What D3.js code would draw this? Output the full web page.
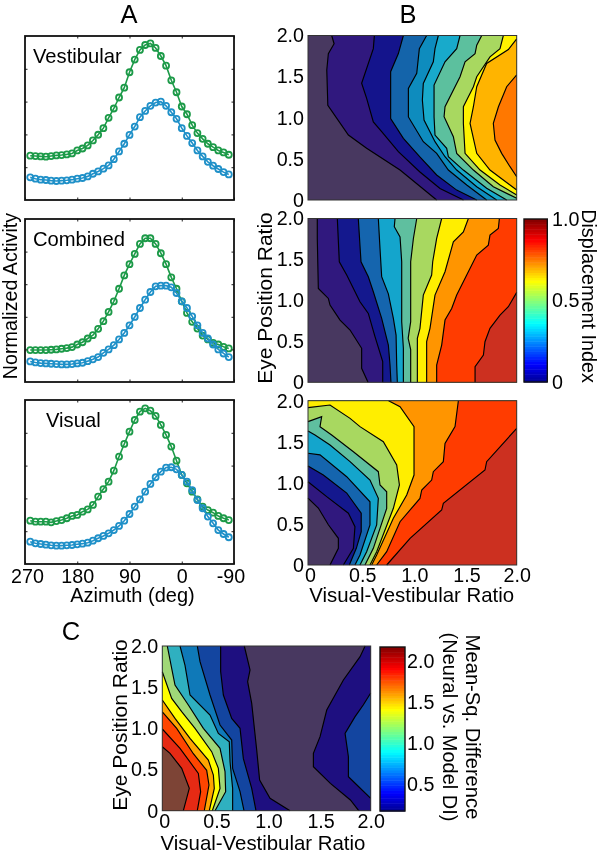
<!DOCTYPE html>
<html><head><meta charset="utf-8">
<script src="https://cdn.jsdelivr.net/npm/d3@7/dist/d3.min.js"></script>
<style>html,body{margin:0;padding:0;background:#fff}svg{display:block;filter:blur(0.35px)}text{font-family:"Liberation Sans",Arial,sans-serif;fill:#000}</style>
</head><body><svg id="c" width="600" height="853"></svg>
<script>
// ---- data -------------------------------------------------------------
const azimuth = d3.range(39).map(i => 261 - 9 * i);
const azTicks = [270, 180, 90, 0, -90];
const ratioTicks = [0, 0.5, 1, 1.5, 2];

const vestGreen = [27.0,26.8,26.6,26.4,26.8,27.2,27.4,27.8,28.4,30.2,31.4,33.3,36.3,39.8,43.8,50.1,55.8,62.5,68.5,77.9,85.6,91.5,94.5,95.5,92.7,87.8,81.9,73.0,65.7,57.0,52.3,45.6,40.8,37.3,34.3,32.2,30.2,29.0,27.6];
const vestBlue = [13.8,13.0,12.4,12.2,11.8,11.6,11.8,12.0,12.4,13.0,13.4,14.4,16.0,17.4,19.1,21.1,24.9,29.6,34.3,39.7,44.8,50.5,54.3,57.4,59.4,60.0,57.4,53.5,49.5,43.8,39.1,34.7,30.2,26.6,23.3,20.9,18.9,17.0,15.6];
const combGreen = [19.6,19.6,19.6,19.6,19.8,20.0,20.4,20.8,21.4,23.0,24.4,26.7,28.7,32.6,37.3,43.0,49.5,57.2,65.4,72.3,78.6,84.7,88.2,88.2,84.7,79.0,72.3,64.2,57.2,49.5,42.4,36.9,32.8,28.5,26.1,24.0,23.0,21.6,20.6];
const combBlue = [12.6,12.0,11.6,11.4,11.2,11.0,10.8,10.8,11.0,11.4,11.8,12.8,13.9,15.3,17.9,20.0,22.6,26.1,30.1,34.8,39.9,45.4,50.5,55.2,58.7,59.1,59.1,58.1,54.6,49.5,45.4,40.3,34.8,30.1,26.7,23.0,20.0,17.5,15.3];
const visGreen = [26.4,25.8,25.8,25.8,25.4,26.2,26.8,27.9,29.3,29.9,31.9,33.3,36.0,41.1,45.7,50.2,56.9,65.5,73.2,80.7,87.8,92.9,94.9,93.5,90.3,84.8,78.7,71.6,63.0,54.3,49.2,44.1,39.4,35.0,32.9,31.3,29.3,27.9,26.8];
const visBlue = [13.6,12.6,12.2,11.8,11.4,11.2,11.2,11.4,11.6,12.0,12.4,13.0,14.2,15.7,17.1,18.7,20.7,23.2,26.4,30.5,35.0,39.4,44.1,48.8,52.9,56.3,58.8,59.0,57.7,54.3,50.2,45.1,39.0,34.0,28.9,24.8,20.7,18.3,16.3];

// iso-lines of each contour map, as [visual-vestibular ratio, eye position ratio]
const b1Lines = [
 [[.227,2],[.25,1.9],[.195,1.78],[.18,1.58],[.19,1.15],[.387,.79],[.562,.63],[.882,.364],[1.233,0]],
 [[.636,2],[.626,1.84],[.514,1.42],[.562,1.235],[.626,.95],[.706,.83],[.866,.587],[1.07,.344],[1.265,.14],[1.49,0]],
 [[.914,2],[.866,1.78],[.792,1.56],[.792,.99],[.914,.75],[1.07,.526],[1.233,.304],[1.425,.12],[1.617,0]],
 [[1.137,2],[1.067,1.84],[1.042,1.54],[.962,1.356],[.962,1.01],[1.105,.709],[1.233,.567],[1.345,.364],[1.521,.182],[1.712,0]],
 [[1.249,2],[1.217,1.84],[1.201,1.68],[1.105,1.417],[1.096,1.215],[1.112,.972],[1.217,.709],[1.313,.526],[1.425,.364],[1.617,.162],[1.808,0]],
 [[1.457,2],[1.425,1.84],[1.313,1.68],[1.208,1.397],[1.208,1.008],[1.217,.79],[1.329,.628],[1.345,.526],[1.489,.364],[1.712,.142],[1.904,0]],
 [[1.665,2],[1.617,1.883],[1.601,1.78],[1.505,1.68],[1.457,1.498],[1.313,1.134],[1.304,1.012],[1.393,.769],[1.425,.567],[1.585,.364],[1.776,.162],[2,.02]],
 [[1.872,2],[1.84,1.84],[1.744,1.74],[1.617,1.498],[1.585,1.377],[1.489,1.134],[1.489,.931],[1.505,.567],[1.649,.364],[1.84,.182],[2,.061]],
 [[2,1.96],[1.92,1.83],[1.712,1.66],[1.617,1.377],[1.585,1.134],[1.553,.931],[1.617,.567],[1.744,.364],[2,.121]],
 [[2,1.52],[1.904,1.377],[1.825,1.134],[1.776,.931],[1.792,.729],[1.856,.567],[1.936,.405],[2,.283]]
];
const b1Colors = ["#30187e","#14148c","#1464aa","#0e8cbe","#18aacb","#5cc09e","#a8d860","#fff200","#ffb400","#ff7800"];
const b2Lines = [
 [[.089,2],[.089,1.756],[.099,1.146],[.195,1.024],[.211,.943],[.307,.76],[.403,.638],[.514,.415],[.514,.171],[.575,0]],
 [[.281,2],[.3,1.472],[.371,1.309],[.498,.984],[.578,.841],[.642,.557],[.716,.252],[.716,0]],
 [[.482,2],[.508,1.472],[.578,1.289],[.626,1.106],[.706,.78],[.77,.455],[.786,.211],[.795,0]],
 [[.674,2],[.69,1.634],[.706,1.289],[.77,1.08],[.818,.78],[.844,.577],[.85,.211],[.856,0]],
 [[.834,2],[.827,1.9],[.882,1.776],[.898,1.472],[.898,1.106],[.898,.74],[.914,.415],[.914,0]],
 [[1.042,2],[1.01,1.756],[.984,1.472],[.984,.74],[.96,.537],[.984,.4],[.984,0]],
 [[1.281,2],[1.233,1.756],[1.195,1.472],[1.185,1.309],[1.105,1.065],[1.073,.659],[1.048,.537],[1.048,0]],
 [[1.537,2],[1.489,1.837],[1.393,1.715],[1.313,1.35],[1.217,1.065],[1.169,.659],[1.137,.496],[1.137,0]],
 [[1.834,2],[1.824,1.878],[1.744,1.797],[1.728,1.675],[1.617,1.553],[1.521,1.309],[1.425,1.065],[1.377,.902],[1.313,.76],[1.281,.455],[1.233,.211],[1.233,0]],
 [[2,1.098],[1.92,.923],[1.84,.82],[1.744,.659],[1.696,.496],[1.681,.333],[1.601,.191],[1.601,0]]
];
const b2Colors = ["#30187e","#14188e","#1565ae","#14a5cc","#5fbf9f","#a8d860","#ffee00","#ff9500","#ff3c00","#cc3020"];
const b3Lines = [
 [[0,.815],[.099,.694],[.195,.49],[.291,.325],[.291,.203],[.211,0]],
 [[0,1.014],[.179,.832],[.387,.63],[.45,.467],[.435,.203],[.339,0]],
 [[0,1.205],[.147,1.095],[.371,.876],[.51,.63],[.51,.406],[.463,.203],[.396,0]],
 [[0,1.36],[.115,1.34],[.371,1.075],[.594,.77],[.594,.487],[.498,.122],[.45,0]],
 [[0,1.631],[.067,1.582],[.211,1.46],[.403,1.258],[.594,1.034],[.674,.811],[.658,.487],[.562,.162],[.498,0]],
 [[0,1.745],[.131,1.806],[.115,1.684],[.227,1.582],[.435,1.379],[.674,1.136],[.69,.974],[.754,.892],[.754,.69],[.626,.203],[.546,0]],
 [[0,1.916],[.211,1.948],[.403,1.785],[.498,1.684],[.722,1.501],[.85,1.217],[.876,.974],[.818,.69],[.658,.162],[.594,0]],
 [[.772,2],[.882,1.927],[1.016,1.684],[1.016,1.095],[.946,.852],[.818,.568],[.658,.122],[.61,0]],
 [[1.441,2],[1.409,1.684],[1.313,1.481],[1.297,1.258],[1.201,1.136],[1.185,1.034],[1.09,.913],[1.073,.811],[.882,.527],[.754,.162],[.658,0]],
 [[2,1.663],[1.712,1.258],[1.696,1.156],[1.297,.751],[1.281,.669],[.978,.325],[.754,0]]
];
const b3Colors = b2Colors;
const cLines = [
 [[1.946,2],[1.898,1.87],[1.738,1.587],[1.578,1.223],[1.514,.899],[1.45,.696],[1.45,.534],[1.613,.332],[1.805,.13],[1.885,0]],
 [[2,1.429],[1.93,1.287],[1.85,1.142],[1.754,.939],[1.786,.656],[1.786,.413],[1.885,.291],[2,.15]],
 [[1.226,0],[1.034,.15],[.934,.372],[.906,.737],[.858,1.304],[.819,1.567],[.842,1.709],[.787,2]],
 [[.899,0],[.858,.271],[.778,.632],[.746,1.0],[.666,1.12],[.586,1.405],[.56,1.69],[.56,2]],
 [[.784,0],[.746,.231],[.675,.514],[.666,.858],[.554,1.04],[.458,1.405],[.362,1.81],[.336,2]],
 [[.675,0],[.675,.271],[.65,.595],[.643,.838],[.538,.939],[.458,1.162],[.266,1.405],[.218,1.765],[.17,2]],
 [[.506,0],[.608,.231],[.602,.474],[.554,.757],[.394,1.0],[.25,1.283],[.122,1.526],[.09,1.729],[.048,2]],
 [[.48,0],[.554,.271],[.538,.514],[.474,.717],[.314,1.0],[.186,1.202],[.09,1.364],[0,1.688]],
 [[.451,0],[.499,.271],[.49,.433],[.442,.615],[.266,.879],[.122,1.121],[0,1.344]],
 [[.403,0],[.448,.312],[.426,.49],[.298,.692],[.138,1.0],[0,1.2]],
 [[.336,0],[.368,.231],[.346,.453],[.17,.757],[0,.992]],
 [[.202,0],[.259,.271],[.186,.514],[.074,.696],[0,.777]]
];
const cColors = ["#1e0f80","#1345a0","#1e0f80","#1345a0","#0f79b8","#2fb0c0","#a0d878","#ffff00","#ffa500","#ff4500","#e62a14","#7d4436"];
const lowestBand = "#483860";

const jetStops = ["#00008f","#0000ff","#00ffff","#ffff00","#ff0000","#800000"];
const jetPositions = [0, 0.11, 0.36, 0.62, 0.87, 1];

// ---- drawing -----------------------------------------------------------
const svg = d3.select("#c");
const FS = 19.7;

function label(t, x, y, size, anchor) {
  return svg.append("text").text(t).attr("font-size", size).attr("text-anchor", anchor || "middle").attr("x", x).attr("y", y);
}
function vlabel(t, x, y, size, rot) {
  return svg.append("text").text(t).attr("font-size", size).attr("text-anchor", "middle")
    .attr("transform", `translate(${x},${y}) rotate(${rot})`);
}

function linePanel(box, green, blue, name, nx, ny, showX) {
  const g = svg.append("g");
  const x = d3.scaleLinear().domain([270, -90]).range([box.x0, box.x1]);
  const y = d3.scaleLinear().domain([0, 100]).range([box.y1, box.y0]);
  const ln = d3.line().x((d, i) => x(azimuth[i])).y(d => y(d));
  [[green, "#1c9a48"], [blue, "#1f90c8"]].forEach(([v, c]) => {
    g.append("path").attr("d", ln(v)).attr("fill", "none").attr("stroke", c).attr("stroke-width", 1.6);
    g.selectAll(null).data(v).join("circle")
      .attr("cx", (d, i) => x(azimuth[i])).attr("cy", d => y(d)).attr("r", 3)
      .attr("fill", "none").attr("stroke", c).attr("stroke-width", 1.8);
  });
  const ticksOnly = a => a.tickSizeOuter(0);
  const bx = g.append("g").attr("transform", `translate(0,${box.y1})`)
    .call(ticksOnly(d3.axisBottom(x).tickValues(azTicks).tickSizeInner(-2.5).tickPadding(6).tickFormat(d => showX ? String(d) : "")));
  g.append("g").attr("transform", `translate(0,${box.y0})`)
    .call(ticksOnly(d3.axisTop(x).tickValues(azTicks).tickSizeInner(-2.5).tickFormat("")));
  const yt = [20, 40, 60, 80];
  [d3.axisLeft(y).tickSizeInner(-2.5), d3.axisRight(y).tickSizeInner(-2.5)].forEach((a, i) => {
    g.append("g").attr("transform", `translate(${i ? box.x1 : box.x0},0)`).call(ticksOnly(a).tickValues(yt).tickFormat(""));
  });
  g.selectAll(".domain").remove();
  bx.selectAll("text").attr("font-size", FS).attr("font-family", '"Liberation Sans"').attr("y", 5)
    .attr("dx", d => d === -90 ? -3.5 : (d === 270 ? 2 : 0));
  g.selectAll(".tick line").attr("stroke", "#222").attr("stroke-width", 1);
  g.append("rect").attr("x", box.x0).attr("y", box.y0).attr("width", box.x1 - box.x0).attr("height", box.y1 - box.y0)
    .attr("fill", "none").attr("stroke", "#111").attr("stroke-width", 1.8);
  label(name, nx, ny, 20.2, "start");
}

function perimeterT(p) {
  const [a, b] = p;
  if (b === 0) return a;
  if (a === 2) return 2 + b;
  if (b === 2) return 4 + (2 - a);
  return 6 + (2 - b);
}
const perimeterCorners = [[0, 0], [2, 0], [2, 2], [0, 2]];
function closeBand(pts) {
  const tEnd = perimeterT(pts[pts.length - 1]);
  let tStart = perimeterT(pts[0]);
  if (tStart <= tEnd) tStart += 8;
  const out = pts.slice();
  for (let t = 2 * Math.floor(tEnd / 2) + 2; t < tStart; t += 2) out.push(perimeterCorners[(t / 2) % 4]);
  return out;
}

function contourPanel(box, lines, colors, showX) {
  const g = svg.append("g");
  const x = d3.scaleLinear().domain([0, 2]).range([box.x0, box.x1]);
  const y = d3.scaleLinear().domain([0, 2]).range([box.y1, box.y0]);
  const ln = d3.line().x(d => x(d[0])).y(d => y(d[1]));
  g.append("rect").attr("x", box.x0).attr("y", box.y0).attr("width", box.x1 - box.x0).attr("height", box.y1 - box.y0).attr("fill", lowestBand);
  lines.forEach((pts, i) => g.append("path").attr("d", ln(closeBand(pts)) + "Z").attr("fill", colors[i]).attr("stroke", "none"));
  lines.forEach(pts => g.append("path").attr("d", ln(pts)).attr("fill", "none").attr("stroke", "#000").attr("stroke-width", 1.15));
  const fmt = d => d === 0 ? "0" : d3.format(".1f")(d);
  const ay = g.append("g").attr("transform", `translate(${box.x0},0)`)
    .call(d3.axisLeft(y).tickValues(ratioTicks).tickSize(0).tickPadding(4).tickFormat(fmt));
  ay.selectAll("text").attr("font-size", FS).attr("font-family", '"Liberation Sans"');
  if (showX) {
    const ax = g.append("g").attr("transform", `translate(0,${box.y1})`)
      .call(d3.axisBottom(x).tickValues(ratioTicks).tickSize(0).tickPadding(3).tickFormat(fmt));
    ax.selectAll("text").attr("font-size", FS).attr("font-family", '"Liberation Sans"')
      .attr("dx", d => d === 2 ? 0 : 2);
    ax.select(".domain").remove();
  }
  ay.select(".domain").remove();
  g.append("rect").attr("x", box.x0).attr("y", box.y0).attr("width", box.x1 - box.x0).attr("height", box.y1 - box.y0)
    .attr("fill", "none").attr("stroke", "#333").attr("stroke-width", 1);
}

function colorbar(box, domain, ticks, fmt, labelX) {
  const y = d3.scaleLinear().domain(domain).range([box.y1, box.y0]);
  const t = d3.scaleLinear().domain(jetPositions).range(jetStops).interpolate(d3.interpolateRgb);
  const steps = d3.range(64);
  const band = d3.scaleBand().domain(steps).range([box.y1, box.y0]);
  svg.append("g").selectAll("rect").data(steps).join("rect")
    .attr("x", box.x0).attr("width", box.x1 - box.x0)
    .attr("y", d => band(d)).attr("height", band.bandwidth() + 0.5)
    .attr("fill", d => t((d + 0.5) / 64));
  svg.append("rect").attr("x", box.x0).attr("y", box.y0).attr("width", box.x1 - box.x0).attr("height", box.y1 - box.y0)
    .attr("fill", "none").attr("stroke", "#111").attr("stroke-width", 1.4);
  const a = svg.append("g").attr("transform", `translate(${box.x1},0)`)
    .call(d3.axisRight(y).tickValues(ticks).tickSizeInner(0).tickSizeOuter(0).tickPadding(labelX - box.x1).tickFormat(fmt));
  a.select(".domain").remove();
  a.selectAll("text").attr("font-size", FS).attr("font-family", '"Liberation Sans"');
}

const ax = {x0: 25, x1: 234};
linePanel({...ax, y0: 36, y1: 200}, vestGreen, vestBlue, "Vestibular", 33, 63, false);
linePanel({...ax, y0: 219, y1: 382}, combGreen, combBlue, "Combined", 33, 246, false);
linePanel({...ax, y0: 400, y1: 564}, visGreen, visBlue, "Visual", 46, 427, true);

const bx = {x0: 308, x1: 516.7};
contourPanel({...bx, y0: 35.5, y1: 200}, b1Lines, b1Colors, false);
contourPanel({...bx, y0: 218.5, y1: 382.3}, b2Lines, b2Colors, false);
contourPanel({...bx, y0: 400.7, y1: 565}, b3Lines, b3Colors, true);
contourPanel({x0: 162.3, x1: 370.7, y0: 646, y1: 810.7}, cLines, cColors, true);

colorbar({x0: 524, x1: 547.3, y0: 219, y1: 382}, [0, 1], [0, 0.5, 1], d => d === 0 ? "0" : d3.format(".1f")(d), 552);
colorbar({x0: 380, x1: 405, y0: 647, y1: 811}, [0.17, 2.18], [0.5, 1, 1.5, 2], d3.format(".1f"), 407);

label("A", 129, 23, 25.5);
label("B", 408, 23, 25.5);
label("C", 71, 640, 25.5);
vlabel("Normalized Activity", 17, 296, 19.7, -90);
label("Azimuth (deg)", 132.5, 601.5, 20);
label("Visual-Vestibular Ratio", 411.7, 602, 20.4);
vlabel("Eye Position Ratio", 272, 298, 21, -90);
vlabel("Displacement Index", 582, 296, 19.8, 90);
label("Visual-Vestibular Ratio", 263, 850, 20.4);
vlabel("Eye Position Ratio", 127, 725, 21, -90);
vlabel("Mean-Sq. Difference", 466, 727, 20.2, 90);
vlabel("(Neural vs. Model DI)", 443, 727, 20, 90);
</script></body></html>
